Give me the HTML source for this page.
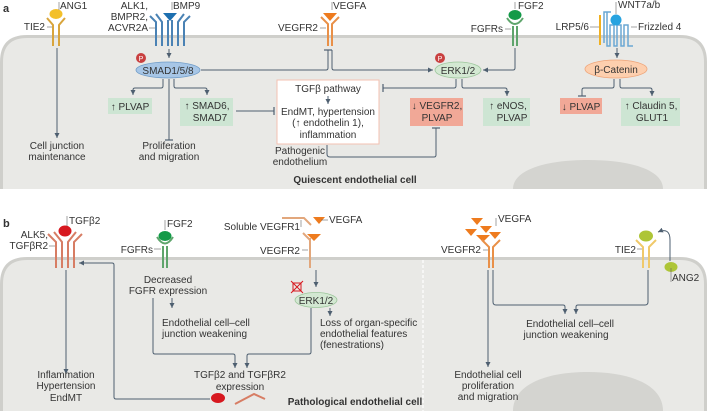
<!DOCTYPE html>
<html><head><meta charset="utf-8"><style>
html,body{margin:0;padding:0;background:#fff;overflow:hidden;width:707px;height:411px;}
svg{display:block;}
text{font-family:"Liberation Sans",sans-serif;font-size:10px;fill:#333;}
.c{text-anchor:middle;}
.e{text-anchor:end;}
.ln{stroke:#4e5f70;stroke-width:1;fill:none;}
</style></head><body>
<svg width="707" height="411" viewBox="0 0 707 411" xmlns="http://www.w3.org/2000/svg">
<defs>
<marker id="ar" markerWidth="6" markerHeight="6" refX="5" refY="3" orient="auto" markerUnits="userSpaceOnUse"><path d="M0,0.5 L5,3 L0,5.5z" fill="#4e5f70"/></marker>
<marker id="tb" markerWidth="2" markerHeight="8" refX="1" refY="4" orient="auto" markerUnits="userSpaceOnUse"><path d="M1,0 L1,8" stroke="#4e5f70" stroke-width="1.2"/></marker>
</defs>
<!-- Panel a cell -->
<path d="M1.5,189 V62 Q1.5,36.5 27,36.5 H680 Q705.5,36.5 705.5,62 V189 Z" fill="#e9e9e6"/>
<path d="M1.5,189 V62 Q1.5,36.5 27,36.5 H680 Q705.5,36.5 705.5,62 V189" fill="none" stroke="#cfcfcb" stroke-width="3"/>
<path d="M513,189 C513,170 545,160 588,160 C631,160 663,170 663,189 Z" fill="#d4d4d0"/>
<!-- Panel b cell -->
<path d="M1.5,411 V284 Q1.5,258.5 27,258.5 H680 Q705.5,258.5 705.5,284 V411 Z" fill="#e9e9e6"/>
<path d="M1.5,411 V284 Q1.5,258.5 27,258.5 H680 Q705.5,258.5 705.5,284 V411" fill="none" stroke="#cfcfcb" stroke-width="3"/>
<path d="M513,411 C513,385 545,372 588,372 C631,372 663,385 663,411 Z" fill="#d4d4d0"/>
<line x1="423" y1="260" x2="423" y2="411" stroke="#fff" stroke-width="1.2" stroke-dasharray="3,2"/>

<text x="3" y="12" style="font-weight:bold;font-size:11px">a</text>
<text x="3" y="227" style="font-weight:bold;font-size:11px">b</text>

<!-- ===== Panel a ===== -->
<g stroke="#d9a53c" stroke-width="2" fill="none">
<path d="M53,46 V25 L47,18"/><path d="M59,46 V25 L65,18"/></g>
<ellipse cx="56" cy="14" rx="6.5" ry="5" fill="#f3c02a"/>
<line x1="59" y1="10" x2="59" y2="2" stroke="#666" stroke-width="0.6"/>
<text x="60" y="9">ANG1</text>
<line x1="47" y1="27" x2="52" y2="27" stroke="#666" stroke-width="0.6"/>
<text x="45" y="30" class="e">TIE2</text>
<line class="ln" x1="57" y1="48" x2="57" y2="138" marker-end="url(#ar)"/>
<text x="57" y="149" class="c">Cell junction</text>
<text x="57" y="160" class="c">maintenance</text>

<g stroke="#4a82b4" stroke-width="2" fill="none">
<path d="M156,46 V22 L150,16"/><path d="M162,46 V22 L156,14"/><path d="M168,46 V20"/>
<path d="M172,46 V20"/><path d="M178,46 V22 L184,14"/><path d="M184,46 V22 L190,16"/></g>
<path d="M163,13 L177,13 L170,21z" fill="#1d6fb0"/>
<line x1="172" y1="10" x2="172" y2="2" stroke="#666" stroke-width="0.6"/>
<text x="173" y="9">BMP9</text>
<text x="148" y="9" class="e">ALK1,</text>
<text x="148" y="20" class="e">BMPR2,</text>
<text x="148" y="31" class="e">ACVR2A</text>
<line x1="149" y1="28" x2="155" y2="28" stroke="#666" stroke-width="0.6"/>
<line class="ln" x1="169" y1="49" x2="169" y2="58" marker-end="url(#ar)"/>
<circle cx="141" cy="58" r="5" fill="#c94040"/><text x="141" y="61" class="c" style="font-size:7px;fill:#fff">P</text>
<ellipse cx="168" cy="70" rx="32" ry="8" fill="#a7c6e6" stroke="#6f9cc8" stroke-width="0.8"/>
<text x="168" y="74" class="c">SMAD1/5/8</text>
<path class="ln" d="M163,79 V86 Q163,88 161,88 H135 Q133,88 133,90 V95" marker-end="url(#ar)"/>
<path class="ln" d="M169,79 V140" marker-end="url(#tb)"/>
<path class="ln" d="M174,79 V86 Q174,88 176,88 H205 Q207,88 207,90 V95" marker-end="url(#ar)"/>
<rect x="108" y="98" width="44" height="16" fill="#cde5d3"/>
<text x="130" y="110" class="c">↑ PLVAP</text>
<rect x="180" y="98" width="53" height="28" fill="#cde5d3"/>
<text x="207" y="109" class="c">↑ SMAD6,</text>
<text x="210" y="121" class="c">SMAD7</text>
<text x="169" y="149" class="c">Proliferation</text>
<text x="169" y="160" class="c">and migration</text>
<path class="ln" d="M201,70 H326 Q328,70 328,68 V50" marker-end="url(#tb)"/>
<path class="ln" d="M236,111 H274" marker-end="url(#tb)"/>

<g stroke="#e99048" stroke-width="2" fill="none"><path d="M328,46 V24 L321,17"/><path d="M332,46 V24 L339,17"/></g>
<path d="M323,13 L337,13 L330,21z" fill="#ee7b1e"/>
<line x1="332" y1="10" x2="332" y2="2" stroke="#666" stroke-width="0.6"/>
<text x="333" y="9">VEGFA</text>
<line x1="320" y1="28" x2="326" y2="28" stroke="#666" stroke-width="0.6"/>
<text x="318" y="31" class="e">VEGFR2</text>
<path class="ln" d="M332,50 V68 Q332,70 334,70 H433" marker-end="url(#ar)"/>

<rect x="277" y="80" width="102" height="64" fill="#fff" stroke="#f3c1b1" stroke-width="1"/>
<text x="328" y="92" class="c">TGFβ pathway</text>
<line class="ln" x1="328" y1="96" x2="328" y2="104" marker-end="url(#ar)"/>
<text x="328" y="115" class="c">EndMT, hypertension</text>
<text x="328" y="126" class="c">(↑ endothelin 1),</text>
<text x="328" y="138" class="c">inflammation</text>
<text x="300" y="154" class="c">Pathogenic</text>
<text x="300" y="165" class="c">endothelium</text>
<path class="ln" d="M327,145 V154 Q327,157 330,157 H434 Q436,157 436,155 V128" marker-end="url(#tb)"/>

<circle cx="440" cy="58" r="5" fill="#c94040"/><text x="440" y="61" class="c" style="font-size:7px;fill:#fff">P</text>
<ellipse cx="458" cy="70" rx="23" ry="8" fill="#d3e8d2" stroke="#9cc69b" stroke-width="0.8"/>
<text x="458" y="74" class="c">ERK1/2</text>
<path class="ln" d="M456,79 V86 Q456,88 454,88 H383" marker-end="url(#tb)"/>
<path class="ln" d="M462,79 V86 Q462,88 464,88 H505 Q507,88 507,90 V96" marker-end="url(#ar)"/>
<rect x="410" y="98" width="53" height="28" fill="#f1a897"/>
<text x="437" y="109" class="c">↓ VEGFR2,</text>
<text x="437" y="121" class="c">PLVAP</text>
<rect x="483" y="98" width="47" height="28" fill="#cde5d3"/>
<text x="508" y="109" class="c">↑ eNOS,</text>
<text x="512" y="121" class="c">PLVAP</text>

<g stroke="#5fa56c" stroke-width="2" fill="none"><path d="M513,46 V26"/><path d="M517,46 V26"/><path d="M507,18 Q515,30 523,18"/></g>
<ellipse cx="515" cy="15" rx="6.5" ry="5" fill="#139a48"/>
<line x1="515" y1="9" x2="515" y2="2" stroke="#666" stroke-width="0.6"/>
<text x="518" y="9">FGF2</text>
<line x1="505" y1="29" x2="511" y2="29" stroke="#666" stroke-width="0.6"/>
<text x="503" y="32" class="e">FGFRs</text>
<path class="ln" d="M515,48 V68 Q515,70 513,70 H483" marker-end="url(#ar)"/>

<line x1="600" y1="15" x2="600" y2="45" stroke="#f0b020" stroke-width="2"/>
<path d="M604,43 V12 H611 M607,12 V46 H610 V25 H614 V46 H617 V25 H621 V46 H624 V25 H628 V46 H633" stroke="#6aa7d4" stroke-width="1.5" fill="none"/>
<circle cx="616" cy="20" r="5.5" fill="#27a3e0"/>
<line x1="616" y1="14" x2="616" y2="2" stroke="#666" stroke-width="0.6"/>
<text x="618" y="8">WNT7a/b</text>
<line x1="590" y1="27" x2="599" y2="27" stroke="#666" stroke-width="0.6"/>
<text x="589" y="30" class="e">LRP5/6</text>
<line x1="631" y1="27" x2="637" y2="27" stroke="#666" stroke-width="0.6"/>
<text x="638" y="30">Frizzled 4</text>
<line class="ln" x1="617" y1="48" x2="617" y2="58" marker-end="url(#ar)"/>
<ellipse cx="616" cy="69" rx="31" ry="9" fill="#fdcfae" stroke="#eea57a" stroke-width="0.8"/>
<text x="616" y="73" class="c">β-Catenin</text>
<path class="ln" d="M614,79 V86 Q614,88 612,88 H584 Q582,88 582,90 V96" marker-end="url(#tb)"/>
<path class="ln" d="M620,79 V86 Q620,88 622,88 H650 Q652,88 652,90 V96" marker-end="url(#ar)"/>
<rect x="560" y="98" width="42" height="16" fill="#f1a897"/>
<text x="581" y="110" class="c">↓ PLVAP</text>
<rect x="621" y="98" width="59" height="28" fill="#cde5d3"/>
<text x="651" y="109" class="c">↑ Claudin 5,</text>
<text x="652" y="121" class="c">GLUT1</text>

<text x="355" y="183" class="c" style="font-weight:bold">Quiescent endothelial cell</text>

<!-- ===== Panel b ===== -->
<g stroke="#d77d64" stroke-width="2" fill="none">
<path d="M56,268 V242 L48,234"/><path d="M62,268 V242 L54,232"/><path d="M68,268 V242 L76,232"/><path d="M74,268 V242 L82,234"/></g>
<ellipse cx="65" cy="231" rx="6.5" ry="5.5" fill="#d7181f"/>
<line x1="67" y1="226" x2="67" y2="216" stroke="#666" stroke-width="0.6"/>
<text x="69" y="224">TGFβ2</text>
<text x="48" y="238" class="e">ALK5,</text>
<text x="48" y="249" class="e">TGFβR2</text>
<line x1="49" y1="246" x2="55" y2="246" stroke="#666" stroke-width="0.6"/>
<line class="ln" x1="66" y1="270" x2="66" y2="374" marker-end="url(#ar)"/>
<text x="66" y="378" class="c">Inflammation</text>
<text x="66" y="389" class="c">Hypertension</text>
<text x="66" y="401" class="c">EndMT</text>
<path class="ln" d="M210,399 H116 Q114,399 114,397 V265 Q114,263 112,263 H79" marker-end="url(#ar)"/>
<ellipse cx="218" cy="398" rx="7" ry="5" fill="#d7181f"/>
<path d="M235,404 L254,394 L265,399" stroke="#d77d64" stroke-width="2" fill="none"/>

<g stroke="#5fa56c" stroke-width="2" fill="none"><path d="M163,268 V246"/><path d="M167,268 V246"/><path d="M157,237 Q165,250 173,237"/></g>
<ellipse cx="165" cy="236" rx="6.5" ry="5" fill="#139a48"/>
<line x1="165" y1="230" x2="165" y2="220" stroke="#666" stroke-width="0.6"/>
<text x="167" y="227">FGF2</text>
<line x1="154" y1="249" x2="161" y2="249" stroke="#666" stroke-width="0.6"/>
<text x="153" y="253" class="e">FGFRs</text>
<text x="168" y="283" class="c">Decreased</text>
<text x="168" y="294" class="c">FGFR expression</text>
<line class="ln" x1="172" y1="298" x2="172" y2="308" marker-end="url(#ar)"/>
<text x="162" y="326">Endothelial cell–cell</text>
<text x="162" y="337">junction weakening</text>
<path class="ln" d="M153,298 V352 Q153,354 155,354 H233 Q235,354 235,356 V368" marker-end="url(#ar)"/>
<text x="240" y="378" class="c">TGFβ2 and TGFβR2</text>
<text x="240" y="390" class="c">expression</text>

<text x="300" y="230" class="e">Soluble VEGFR1</text>
<path d="M282,218 H304 L311,225" stroke="#e2a77c" stroke-width="2" fill="none"/>
<line x1="301" y1="220" x2="301" y2="227" stroke="#666" stroke-width="0.6"/>
<path d="M313,217 L325,217 L319,224z" fill="#ee7b1e"/>
<line x1="321" y1="220" x2="328" y2="220" stroke="#666" stroke-width="0.6"/>
<text x="329" y="223">VEGFA</text>
<path d="M310,238 V268 M310,240 L303,233" stroke="#e2a77c" stroke-width="2" fill="none"/>
<path d="M307,234 L321,234 L314,241z" fill="#ee7b1e"/>
<line x1="302" y1="250" x2="308" y2="250" stroke="#666" stroke-width="0.6"/>
<text x="300" y="254" class="e">VEGFR2</text>
<line class="ln" x1="316" y1="270" x2="316" y2="287" marker-end="url(#ar)"/>
<g stroke="#d7181f" stroke-width="1" fill="none"><rect x="293" y="283" width="8" height="8"/><path d="M291,281 L303,293 M303,281 L291,293"/></g>
<ellipse cx="316" cy="300" rx="21" ry="7.5" fill="#d3e8d2" stroke="#9cc69b" stroke-width="0.8"/>
<text x="316" y="304" class="c">ERK1/2</text>
<line class="ln" x1="330" y1="308" x2="330" y2="316" marker-end="url(#ar)"/>
<text x="320" y="326">Loss of organ-specific</text>
<text x="320" y="337">endothelial features</text>
<text x="320" y="348">(fenestrations)</text>
<path class="ln" d="M311,308 V352 Q311,354 309,354 H249 Q247,354 247,356 V368" marker-end="url(#ar)"/>

<g fill="#ee7b1e">
<path d="M471,218 L483,218 L477,225z"/><path d="M480,226 L492,226 L486,233z"/><path d="M465,229 L477,229 L471,236z"/><path d="M489,232 L501,232 L495,239z"/><path d="M476,235 L490,235 L483,242z"/></g>
<line x1="496" y1="218" x2="496" y2="226" stroke="#666" stroke-width="0.6"/>
<text x="498" y="222">VEGFA</text>
<g stroke="#e99048" stroke-width="2" fill="none"><path d="M489,268 V247 L482,240"/><path d="M493,268 V247 L500,240"/></g>
<line x1="483" y1="250" x2="488" y2="250" stroke="#666" stroke-width="0.6"/>
<text x="481" y="253" class="e">VEGFR2</text>
<line class="ln" x1="488" y1="270" x2="488" y2="367" marker-end="url(#ar)"/>
<text x="488" y="378" class="c">Endothelial cell</text>
<text x="488" y="389" class="c">proliferation</text>
<text x="488" y="400" class="c">and migration</text>
<path class="ln" d="M493,270 V302 Q493,305 496,305 H563 Q565,305 565,307 V314" marker-end="url(#ar)"/>
<path class="ln" d="M648,270 V302 Q648,305 645,305 H578 Q576,305 576,307 V314" marker-end="url(#ar)"/>
<text x="570" y="327" class="c">Endothelial cell–cell</text>
<text x="566" y="338" class="c">junction weakening</text>

<g stroke="#f0c96a" stroke-width="2" fill="none"><path d="M643,268 V247 L636,240"/><path d="M649,268 V247 L656,240"/></g>
<ellipse cx="646" cy="236" rx="7" ry="5.5" fill="#aec537"/>
<line x1="637" y1="249" x2="642" y2="249" stroke="#666" stroke-width="0.6"/>
<text x="636" y="253" class="e">TIE2</text>
<ellipse cx="671" cy="267" rx="6.5" ry="5" fill="#aec537"/>
<line x1="671" y1="268" x2="671" y2="282" stroke="#666" stroke-width="0.6"/>
<text x="672" y="281">ANG2</text>
<path class="ln" d="M670,261 V240 Q670,227 658,232" marker-end="url(#ar)"/>

<text x="355" y="405" class="c" style="font-weight:bold">Pathological endothelial cell</text>
</svg>
</body></html>
